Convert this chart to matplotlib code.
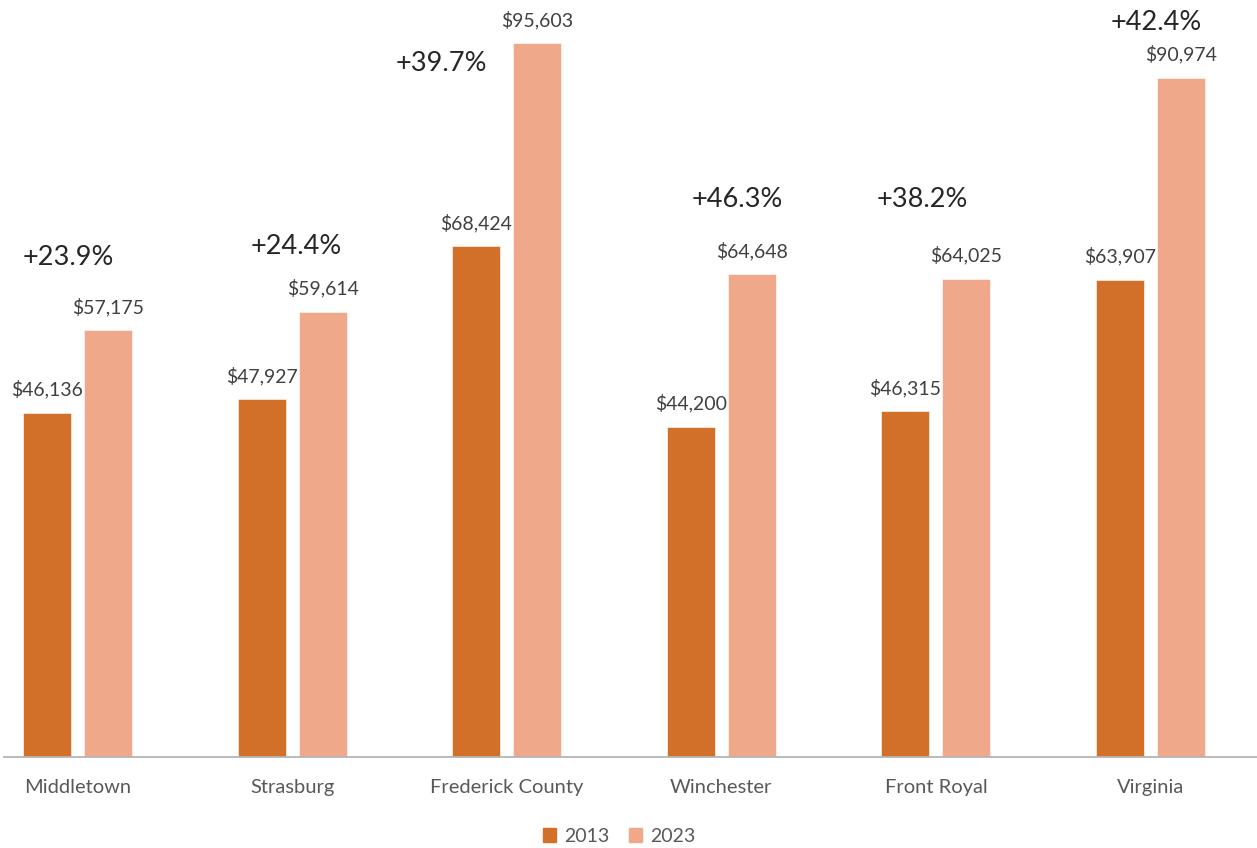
import matplotlib
matplotlib.use("Agg")
import matplotlib.pyplot as plt
from matplotlib.patches import Patch
import numpy as np

plt.rcParams["font.family"] = ["Lato", "DejaVu Sans"]

# Median household income by locality
localities = ["Middletown", "Strasburg", "Frederick County", "Winchester", "Front Royal", "Virginia"]
income_2013 = [46136, 47927, 68424, 44200, 46315, 63907]
income_2023 = [57175, 59614, 95603, 64648, 64025, 90974]
years = ["2013", "2023"]

# Placement of the percent-change callouts (x offset in category units, y in dollars)
change_dx = [-0.044, 0.021, -0.305, 0.075, -0.061, 0.028]
change_y = [66980, 68450, 92970, 74750, 74750, 98390]

color_2013 = "#D2702A"
color_2023 = "#F0A88A"

W, H = 1257, 848
fig = plt.figure(figsize=(W / 100, H / 100), dpi=100)
ax = fig.add_axes([4 / W, (H - 757) / H, (W - 4) / W, 757 / H])

x = np.arange(len(localities))
bw = 0.2237
off = 0.142

b1 = ax.bar(x - off, income_2013, bw, color=color_2013, edgecolor="white", linewidth=0.4)
b2 = ax.bar(x + off, income_2023, bw, color=color_2023, edgecolor="white", linewidth=0.4)

for bars, vals in ((b1, income_2013), (b2, income_2023)):
    for rect, v in zip(bars, vals):
        ax.annotate(f"${v:,}", (rect.get_x() + rect.get_width() / 2, v),
                    xytext=(0, 17), textcoords="offset points",
                    ha="center", va="center", fontsize=14, color="#404040")

for i, (a, b) in enumerate(zip(income_2013, income_2023)):
    pct = (b / a - 1) * 100
    ax.text(x[i] + change_dx[i], change_y[i], f"+{pct:.1f}%",
            ha="center", va="center", fontsize=19.5, color="#262626")

ax.set_xlim((4 - 77.5) / 214.6, (1257 - 77.5) / 214.6)
ax.set_ylim(0, 101420)

for s in ("top", "right", "left"):
    ax.spines[s].set_visible(False)
ax.spines["bottom"].set_color("#B4B4B4")
ax.spines["bottom"].set_linewidth(1.3)
ax.set_yticks([])
ax.set_xticks(x)
ax.set_xticklabels(localities, fontsize=14.5, color="#595959")
ax.tick_params(axis="x", length=0, pad=16)

handles = [Patch(color=color_2013), Patch(color=color_2023)]
fig.legend(handles, years, loc="center", bbox_to_anchor=(619 / W, 1 - 836 / H),
           ncol=2, frameon=False, fontsize=14, labelcolor="#595959",
           handlelength=0.7, handleheight=0.7, handletextpad=0.4, columnspacing=1.0)

fig.savefig("out.png", dpi=100)
